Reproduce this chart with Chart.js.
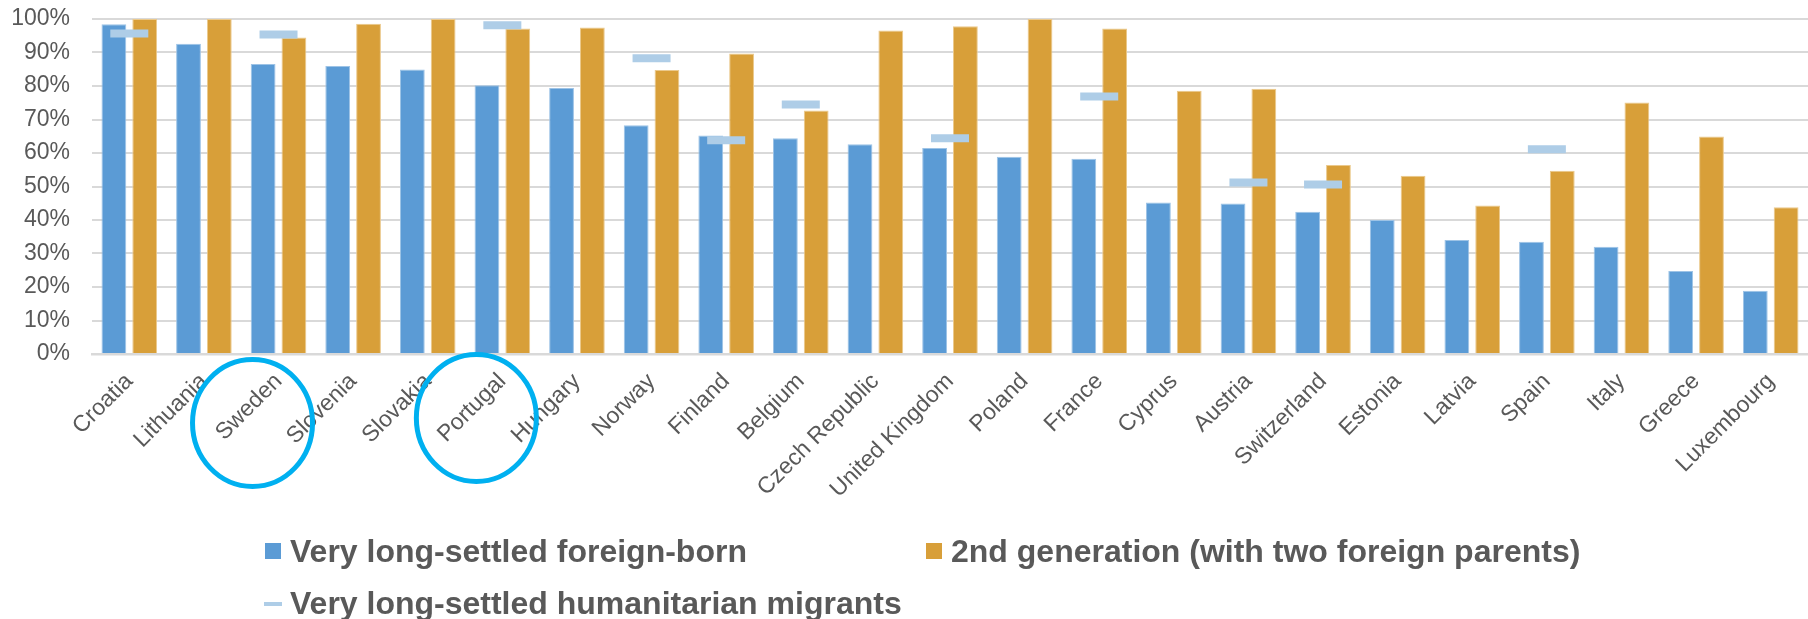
<!DOCTYPE html>
<html>
<head>
<meta charset="utf-8">
<script src="https://cdn.jsdelivr.net/npm/chart.js@4.4.1/dist/chart.umd.min.js"></script>
<style>
  html, body { margin: 0; padding: 0; background: #fff; }
  #wrap { position: relative; width: 1808px; height: 619px; overflow: hidden; }
  #legend { font: bold 32px "Liberation Sans", Arial, sans-serif; color: #595959; }
  .item { position: absolute; display: flex; align-items: center; height: 36px; line-height: 36px; white-space: nowrap; }
  .mark { display: inline-block; margin-right: 9px; }
</style>
</head>
<body>
<div id="wrap">
  <canvas id="myChart" width="1808" height="619"></canvas>
  <div id="legend"></div>
</div>
<script>
// data (percent)
const categories = ['Croatia', 'Lithuania', 'Sweden', 'Slovenia', 'Slovakia', 'Portugal', 'Hungary', 'Norway',
  'Finland', 'Belgium', 'Czech Republic', 'United Kingdom', 'Poland', 'France', 'Cyprus', 'Austria',
  'Switzerland', 'Estonia', 'Latvia', 'Spain', 'Italy', 'Greece', 'Luxembourg'];
const foreignBorn = [98.4, 92.6, 86.6, 86.0, 84.9, 80.2, 79.4, 68.3, 65.2, 64.4, 62.6, 61.5,
  58.9, 58.3, 45.2, 44.9, 42.5, 40.0, 34.0, 33.5, 32.0, 24.8, 18.9];
const secondGeneration = [100, 100, 94.5, 98.6, 100, 97.2, 97.5, 84.8, 89.7, 72.7, 96.6, 97.8,
  100, 97.2, 78.6, 79.2, 56.4, 53.2, 44.3, 54.7, 75.1, 64.9, 43.8];
const humanitarian = [95.7, null, 95.4, null, null, 98.1, null, 88.3, 63.8, 74.5, null, 64.4,
  null, 76.9, null, 51.2, 50.6, null, null, 61.1, null, null, null];
const seriesNames = ['Very long-settled foreign-born', '2nd generation (with two foreign parents)',
  'Very long-settled humanitarian migrants'];
const circled = ['Sweden', 'Portugal'];

const FONT = '"Liberation Sans", Arial, sans-serif';
const GREY = '#595959';

// blue rings drawn round some axis labels
const ringPlugin = {
  id: 'rings',
  afterDraw(chart) {
    const ctx = chart.ctx;
    const xs = chart.scales.x;
    const offsets = { Sweden: 69, Portugal: 64 };
    ctx.save();
    ctx.strokeStyle = '#00B0F0';
    ctx.lineWidth = 5;
    circled.forEach((name) => {
      const x = xs.getPixelForValue(categories.indexOf(name)) - 26;
      const y = chart.chartArea.bottom + offsets[name];
      ctx.beginPath();
      ctx.ellipse(x, y, 60, 63.5, 0, 0, Math.PI * 2);
      ctx.stroke();
    });
    ctx.restore();
  }
};

const ctx = document.getElementById('myChart').getContext('2d');
const chart = new Chart(ctx, {
  type: 'bar',
  data: {
    labels: categories,
    datasets: [
      {
        type: 'line',
        label: seriesNames[2],
        data: humanitarian,
        showLine: false,
        pointStyle: 'line',
        pointRadius: 19,
        pointHoverRadius: 19,
        pointBorderWidth: 8,
        pointHoverBorderWidth: 8,
        borderColor: '#AECDE7',
        backgroundColor: '#AECDE7',
        order: 0
      },
      {
        label: seriesNames[0],
        data: foreignBorn,
        backgroundColor: '#5B9BD5',
        borderColor: '#9DC3E6',
        borderWidth: 1,
        order: 1
      },
      {
        label: seriesNames[1],
        data: secondGeneration,
        backgroundColor: '#D89F39',
        borderColor: '#EBC98C',
        borderWidth: 1,
        order: 1
      }
    ]
  },
  options: {
    responsive: false,
    animation: false,
    events: [],
    categoryPercentage: 0.826,
    barPercentage: 0.805,
    layout: { autoPadding: false, padding: { top: 19, left: 10, right: 0, bottom: 115 } },
    plugins: {
      legend: { display: false },
      tooltip: { enabled: false }
    },
    scales: {
      x: {
        grid: { display: false, drawTicks: false },
        border: { color: '#d9d9d9', width: 2.5 },
        ticks: {
          minRotation: 45,
          maxRotation: 45,
          autoSkip: false,
          padding: 14,
          color: GREY,
          font: { family: FONT, size: 23 }
        },
        afterFit: (scale) => {
          scale.height = 150;
          scale.paddingLeft = 0;
          scale.paddingRight = 0;
        }
      },
      y: {
        min: 0,
        max: 100,
        grid: { color: '#d9d9d9', lineWidth: 2, drawTicks: false },
        border: { display: false },
        ticks: {
          stepSize: 10,
          padding: 22,
          color: GREY,
          font: { family: FONT, size: 23 },
          callback: (v) => v + '%'
        },
        afterFit: (scale) => {
          scale.width = 82;
          scale.paddingTop = 0;
          scale.paddingBottom = 0;
        }
      }
    }
  },
  plugins: [ringPlugin]
});

// legend laid out in the two-column grid of the original
const legendSlots = [
  { ds: 1, left: 265, top: 533, mark: 'box' },
  { ds: 2, left: 926, top: 533, mark: 'box' },
  { ds: 0, left: 264, top: 585, mark: 'dash' }
];
const legendEl = document.getElementById('legend');
legendSlots.forEach((slot) => {
  const ds = chart.data.datasets[slot.ds];
  const item = document.createElement('div');
  item.className = 'item';
  item.style.left = slot.left + 'px';
  item.style.top = slot.top + 'px';
  const m = document.createElement('span');
  m.className = 'mark';
  if (slot.mark === 'box') {
    m.style.width = '16px'; m.style.height = '16px'; m.style.background = ds.backgroundColor;
  } else {
    m.style.width = '18px'; m.style.height = '4px'; m.style.background = ds.borderColor;
    m.style.marginRight = '8px'; m.style.marginTop = '2px';
  }
  item.appendChild(m);
  item.appendChild(document.createTextNode(ds.label));
  legendEl.appendChild(item);
});
</script>
</body>
</html>
